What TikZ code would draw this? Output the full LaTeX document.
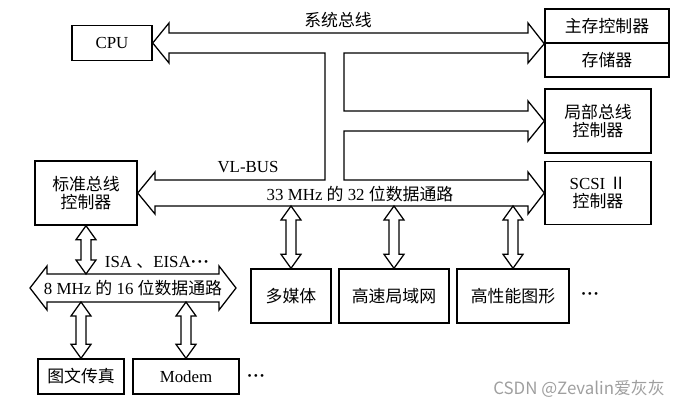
\documentclass[tikz,border=0pt]{standalone}
\usepackage{fontspec}
\setmainfont{Liberation Serif}
\newfontfamily\cjk{Noto Sans CJK SC}
\usetikzlibrary{calc}

\newcommand{\zh}[1]{{\cjk #1}}
\newcommand{\mdots}{\textbf{·\kern0.5pt·\kern0.5pt·}}
% hollow double arrow, #1 = upper tip, #2 = lower tip
\newcommand{\dlink}[2]{%
  \draw[bus] (#1) -- ++(10,14) -- ++(-5,0) -- ($(#2)+(5,-14)$) -- ++(5,0) -- (#2)
    -- ++(-10,-14) -- ++(5,0) -- ($(#1)+(-5,14)$) -- ++(-5,0) -- cycle;}

\begin{document}
\begin{tikzpicture}[
    x=0.025cm, y=-0.025cm,
    font=\fontsize{12}{13}\selectfont,
    box/.style={draw, line width=1pt, inner sep=0pt, align=center, minimum height=0.875cm},
    bus/.style={draw, line width=0.9pt, fill=white, line join=miter}
  ]
    \useasboundingbox (0,0) rectangle (692,408);

    \node[box, minimum width=2cm] (cpu) at (112,43) {CPU};
    \node[box, minimum width=3.1cm, minimum height=0.85cm] (mc) at (607,26) {\zh{主存控制器}};
    \node[box, minimum width=3.1cm, minimum height=0.85cm] (mem) at (607,60) {\zh{存储器}};
    \node[box, minimum width=2.65cm, minimum height=1.6cm] (lb) at (598,121) {\zh{局部总线}\\\zh{控制器}};
    \node[box, minimum width=2.65cm, minimum height=1.575cm] (scsi) at (598,193) {SCSI \zh{Ⅱ}\\\zh{控制器}};
    \node[box, minimum width=2.55cm, minimum height=1.6cm] (std) at (86,193) {\zh{标准总线}\\\zh{控制器}};
    \node[box, minimum width=2cm, minimum height=1.35cm] (mm) at (291,296) {\zh{多媒体}};
    \node[box, minimum width=2.75cm, minimum height=1.35cm] (lan) at (394,296) {\zh{高速局域网}};
    \node[box, minimum width=2.8cm, minimum height=1.35cm] (gfx) at (513,296) {\zh{高性能图形}};
    \node[box, minimum width=2.15cm] (fax) at (81,376.5) {\zh{图文传真}};
    \node[box, minimum width=2.65cm] (modem) at (186,376.5) {Modem};

    % system bus, local bus, VL-BUS and the 33 MHz path
    \draw[bus] (cpu.east) -- (169,23) -- (169,33) -- (528,33) -- (528,23) -- (mc.south west)
      -- (528,63) -- (528,53) -- (344,53) -- (344,111) -- (528,111) -- (528,101) -- (lb.west)
      -- (528,141) -- (528,131) -- (344,131) -- (344,180) -- (528,180) -- (528,172) -- (scsi.west)
      -- (528,214) -- (528,206) -- (155,206) -- (155,214) -- (std.east) -- (155,172)
      -- (155,180) -- (325,180) -- (325,53) -- (169,53) -- (169,63) -- cycle;

    % 8 MHz path
    \draw[bus] (30,288) -- (47,266) -- (47,274) -- (219,274) -- (219,266) -- (236,288)
      -- (219,310) -- (219,302) -- (47,302) -- (47,310) -- cycle;

    \node (sysbus) at (338,20) {\zh{系统总线}};
    \node (vl) at (248,167) {VL-BUS};
    \node (b33txt) at (360,194) {33 MHz \zh{的} 32 \zh{位数据通路}};
    \node (b8txt) at (133,288) {8 MHz \zh{的} 16 \zh{位数据通路}};
    \node (isa) at (157,262) {ISA \zh{、}EISA\mdots};
    \node (dots1) at (590,296) {\mdots};
    \node (dots2) at (256,378) {\mdots};

    \coordinate (b33) at (0,206);
    \coordinate (b8top) at (0,274);
    \coordinate (b8bot) at (0,302);
    \coordinate (mm-up) at (mm.north |- b33);
    \coordinate (lan-up) at (lan.north |- b33);
    \coordinate (gfx-up) at (gfx.north |- b33);
    \coordinate (std-dn) at (std.south |- b8top);
    \coordinate (fax-up) at (fax.north |- b8bot);
    \coordinate (modem-up) at (modem.north |- b8bot);

    \dlink{mm-up}{mm.north}
    \dlink{lan-up}{lan.north}
    \dlink{gfx-up}{gfx.north}
    \dlink{std.south}{std-dn}
    \dlink{fax-up}{fax.north}
    \dlink{modem-up}{modem.north}

    \node[font=\cjk\fontsize{12}{14}\selectfont, text=gray!75] (wm) at (579,389) {CSDN @Zevalin爱灰灰};
  \end{tikzpicture}
\end{document}
